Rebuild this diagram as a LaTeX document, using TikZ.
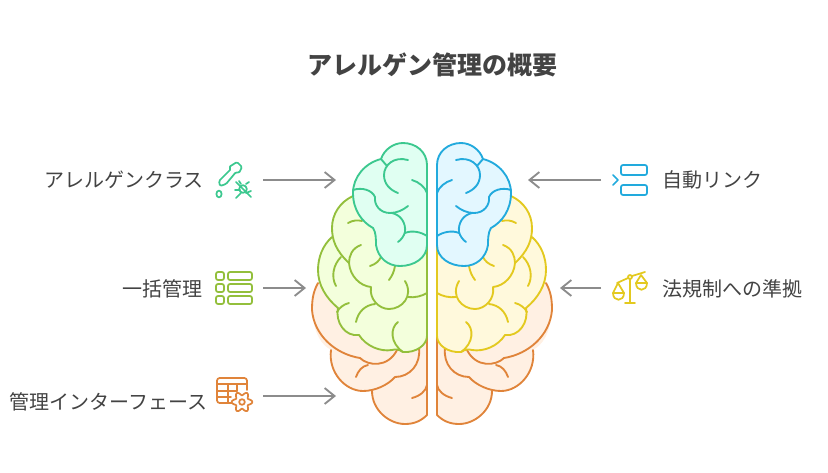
\documentclass[tikz,border=0pt]{standalone}
\usepackage{fontspec}
\setmainfont{Noto Sans CJK JP}
\usepackage{tikz}
\usetikzlibrary{arrows.meta}
\definecolor{inktext}{HTML}{434343}
\definecolor{arrowgray}{HTML}{8C8C8C}
\definecolor{mintline}{HTML}{3CC88F}
\definecolor{mintfill}{HTML}{E0FFF2}
\definecolor{limeline}{HTML}{93BF3C}
\definecolor{limefill}{HTML}{F3FFDC}
\definecolor{orangeline}{HTML}{E0843A}
\definecolor{orangefill}{HTML}{FFF0E3}
\definecolor{skyline}{HTML}{22AADD}
\definecolor{skyfill}{HTML}{E3F7FF}
\definecolor{goldline}{HTML}{E3C91F}
\definecolor{goldfill}{HTML}{FFF9DC}
\tikzset{
  pointer/.style = {draw=arrowgray, line width=1.4pt, -{Straight Barb[length=2.6mm,width=4.2mm,line width=1.4pt]}},
  label/.style   = {text=inktext, font=\fontsize{15}{18}\selectfont, inner sep=0pt},
  heading/.style = {text=inktext, font=\fontsize{18.75}{22}\selectfont\bfseries, inner sep=0pt},
  stroke/.style  = {line width=1.4pt, line cap=round, line join=round},
  glyph/.style   = {line width=1.3pt, line cap=round, line join=round}
}
%%One half of the brain, from the back lobes to the front one
\newcommand{\brainside}[4]{
  \fill[orangefill] (318,283) .. controls (313,292) and (312,300) .. (312,310)
    .. controls (314,335) and (322,345) .. (331,350)
    .. controls (328,372) and (345,391) .. (363,391) -- (372,391)
    .. controls (372,410) and (389,424) .. (405,424)
    .. controls (414,424) and (421,421) .. (427,415) -- (427,300) -- cycle;
  \begin{scope}[stroke, draw=orangeline]
    \draw (318,283) .. controls (313,292) and (312,300) .. (312,310)
      .. controls (314,335) and (335,354) .. (360,358)
      .. controls (368,366) and (388,368) .. (397,350);
    \draw (331,350) .. controls (328,372) and (345,391) .. (363,391)
      .. controls (375,391) and (388,385) .. (395,377)
      .. controls (410,377) and (421,364) .. (419,348);
    \draw (356,377) .. controls (358,371) and (362,366) .. (368,365);
    \draw (372,391) .. controls (372,410) and (389,424) .. (405,424)
      .. controls (414,424) and (421,421) .. (427,415) -- (427,330);
    \draw (412,398) .. controls (420,396) and (426,391) .. (427,385);
  \end{scope}
  \fill[#4] (353,196) .. controls (340,202) and (332,214) .. (332,228) -- (332,237)
    .. controls (323,245) and (318,257) .. (318,270)
    .. controls (318,285) and (326,298) .. (338,308)
    .. controls (335,322) and (345,337) .. (359,335)
    .. controls (366,346) and (380,352) .. (392,350)
    .. controls (396,349) and (398,349) .. (403,352)
    .. controls (416,353) and (427,345) .. (427,336) -- (427,200) -- cycle;
  \begin{scope}[stroke, draw=#3]
    \draw (353,196) .. controls (340,202) and (332,214) .. (332,228)
      .. controls (332,240) and (336,251) .. (349,263);
    \draw (332,237) .. controls (323,245) and (318,257) .. (318,270)
      .. controls (318,285) and (326,298) .. (338,308)
      .. controls (335,322) and (345,337) .. (359,335)
      .. controls (366,346) and (380,352) .. (392,350)
      .. controls (396,349) and (398,349) .. (403,352)
      .. controls (416,353) and (427,345) .. (427,336) -- (427,240);
    \draw (361,245) .. controls (352,248) and (349,256) .. (349,263)
      .. controls (350,276) and (360,286) .. (371,287)
      .. controls (369,299) and (379,309) .. (389,309)
      .. controls (402,309) and (414,296) .. (405,281);
    \draw (408,297) .. controls (415,298) and (422,296) .. (427,293);
    \draw (341,257) .. controls (333,265) and (331,277) .. (336,286);
    \draw (370,266) .. controls (376,264) and (379,261) .. (381,257);
    \draw (395,266) .. controls (394,272) and (392,276) .. (389,280);
    \draw (349,303) .. controls (344,304) and (339,308) .. (337,312);
    \draw (375,304) .. controls (365,305) and (358,312) .. (356,322);
    \draw (398,322) .. controls (390,328) and (390,343) .. (403,352);
    \draw (348,223) .. controls (353,220) and (358,220) .. (362,221);
  \end{scope}
  \filldraw[stroke, draw=#1, fill=#2] (427,165) .. controls (427,152) and (416,143) .. (403,143)
    .. controls (393,143) and (384,150) .. (381,159)
    .. controls (365,163) and (353,177) .. (353,193)
    .. controls (353,210) and (362,222) .. (373,228)
    .. controls (376,232) and (376,240) .. (376,245)
    .. controls (378,258) and (388,266) .. (400,266)
    .. controls (414,266) and (427,258) .. (427,245) -- cycle;
  \begin{scope}[stroke, draw=#1]
    \draw (381,159) -- (387,166);
    \draw (408,160) .. controls (394,156) and (384,165) .. (384,175)
      .. controls (384,184) and (390,190) .. (398,193);
    \draw (412,180) .. controls (419,182) and (425,187) .. (427,193);
    \draw (353,190) .. controls (362,187) and (372,190) .. (375,197)
      .. controls (374,205) and (380,213) .. (390,213)
      .. controls (397,213) and (403,210) .. (408,206);
    \draw (392,213) .. controls (401,215) and (406,223) .. (405,232)
      .. controls (404,236) and (401,240) .. (398,242);
    \draw (405,233) .. controls (412,230) and (421,232) .. (427,236);
  \end{scope}
}
\begin{document}
\begin{tikzpicture}[x=0.75pt,y=-0.75pt]
  \useasboundingbox (0,0) rectangle (828,472);
  %%Brain
  \brainside{mintline}{mintfill}{limeline}{limefill}
  \begin{scope}[shift={(864,0)},xscale=-1]
    \brainside{skyline}{skyfill}{goldline}{goldfill}
  \end{scope}
  %%Texts
  \node[heading] (title) at (432.5,64.5) {アレルゲン管理の概要};
  \node[label,anchor=east] (allergen) at (204,179.5) {アレルゲンクラス};
  \node[label,anchor=east] (bulk) at (203,288.5) {一括管理};
  \node[label,anchor=east] (interface) at (208,401.5) {管理インターフェース};
  \node[label,anchor=west] (autolink) at (662,179.5) {自動リンク};
  \node[label,anchor=west] (law) at (662,288.5) {法規制への準拠};
  %%Arrows
  \coordinate (allergenout) at (263,180);
  \coordinate (bulkout) at (263,288);
  \coordinate (interfaceout) at (263,396);
  \coordinate (autolinkout) at (601,180);
  \coordinate (lawout) at (601,288);
  \coordinate (allergenin) at (336,180);
  \coordinate (bulkin) at (306,288);
  \coordinate (interfacein) at (336,396);
  \coordinate (autolinkin) at (528,180);
  \coordinate (lawin) at (560,288);
  \draw[pointer] (allergenout) -- (allergenin);
  \draw[pointer] (bulkout) -- (bulkin);
  \draw[pointer] (interfaceout) -- (interfacein);
  \draw[pointer] (autolinkout) -- (autolinkin);
  \draw[pointer] (lawout) -- (lawin);
  %%Dropper and bug
  \begin{scope}[glyph, draw=mintline]
    \draw[rounded corners=1pt] (219,181) -- (231,169) -- (229,167) -- (237,162) -- (242,167) -- (239,173) -- (236,172) -- (226,184) -- (220,186) -- cycle;
    \draw (219,194) ellipse (2.6 and 3.4);
    \draw (243,189) circle (3.8);
    \draw (236,182) -- (251,197);
    \draw (235,190) -- (240,190) (246,184) -- (249,182) (236,198) -- (241,193) (246,193) -- (251,191) (241,184) -- (239,181);
  \end{scope}
  %%List
  \begin{scope}[glyph, draw=limeline]
    \foreach \rowy in {272,284,296}{
      \draw[rounded corners=1.5pt] (216,\rowy) rectangle (224,\rowy+8);
      \draw[rounded corners=1.5pt] (228,\rowy) rectangle (252,\rowy+8);
    }
  \end{scope}
  %%Table and gear
  \begin{scope}[glyph, draw=orangeline]
    \draw[rounded corners=2pt] (233,403) -- (217,403) -- (217,378) -- (247,378) -- (247,390);
    \draw (217,384) -- (247,384);
    \draw (217,391) -- (237,391) (217,397) -- (231,397);
    \draw (228,384) -- (228,403) (237,384) -- (237,391);
    \fill[white] (242,402) circle (10);
    \draw plot[domain=0:360,samples=73,smooth] ({242+(8.5+1.8*cos(6*\x))*cos(\x)},{402+(8.5+1.8*cos(6*\x))*sin(\x)}) -- cycle;
    \draw (242,402) circle (2.8);
  \end{scope}
  %%Chevron and boxes
  \begin{scope}[glyph, draw=skyline]
    \draw (613,175) -- (618,180) -- (613,185);
    \draw[rounded corners=1.5pt] (621,165) rectangle (647,175);
    \draw[rounded corners=1.5pt] (621,185) rectangle (647,195);
  \end{scope}
  %%Scales
  \begin{scope}[glyph, draw=goldline]
    \draw (617,283) -- (628,278) (632,276) -- (645,272);
    \draw (630,277) circle (2);
    \draw (630,279) -- (630,303) (625,303) -- (635,303);
    \draw (613,293) -- (618,283) -- (624,293);
    \draw (613,293) -- (624,293) .. controls (624,302) and (613,302) .. (613,293);
    \draw (636,283) -- (641,275) -- (647,283);
    \draw (636,283) -- (647,283) .. controls (647,292) and (636,292) .. (636,283);
  \end{scope}
\end{tikzpicture}
\end{document}
